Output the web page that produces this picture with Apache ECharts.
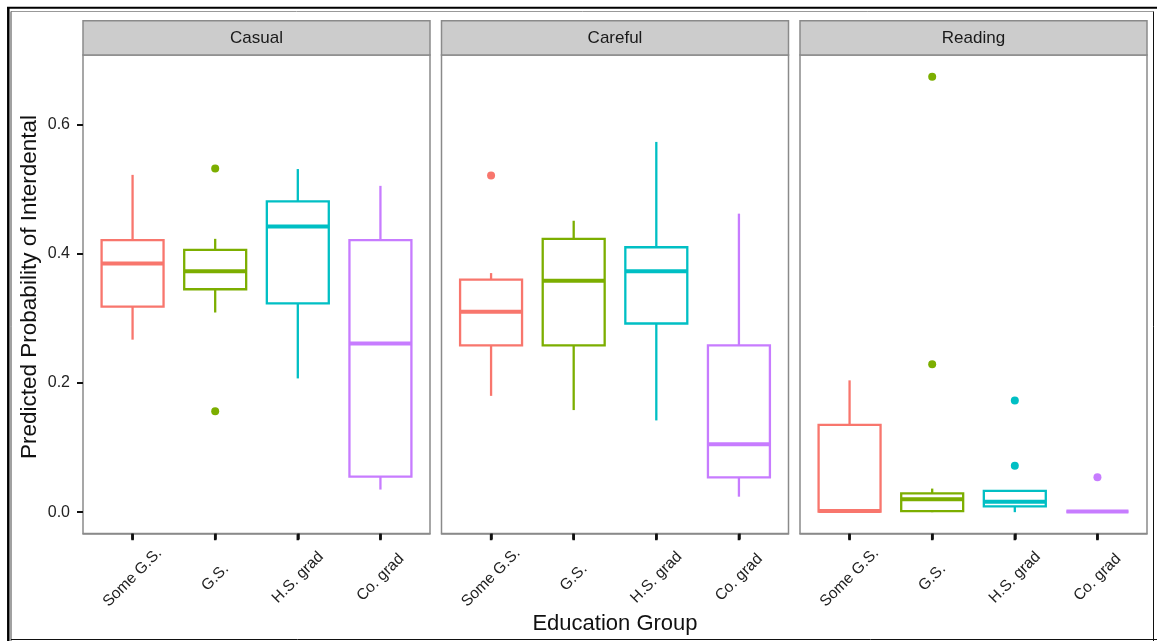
<!DOCTYPE html>
<html><head><meta charset="utf-8">
<script src="https://cdn.jsdelivr.net/npm/echarts@6/dist/echarts.min.js"></script>
<style>html,body{margin:0;padding:0;background:#fff}#c{width:1157px;height:641px}</style>
</head><body><div id="c"></div>
<script>
// ---- data ----
const categories = ['Some G.S.', 'G.S.', 'H.S. grad', 'Co. grad'];
const facets = ['Casual', 'Careful', 'Reading'];
const yTicks = [0, 0.2, 0.4, 0.6];
const xTicks = [1, 2, 3, 4];
// box stats per category: [min, Q1, median, Q3, max]
const casualStats = [
  [0.267, 0.318, 0.385, 0.421, 0.522],
  [0.309, 0.345, 0.373, 0.406, 0.423],
  [0.207, 0.323, 0.442, 0.481, 0.531],
  [0.035, 0.055, 0.261, 0.421, 0.505]
];
const carefulStats = [
  [0.180, 0.258, 0.310, 0.360, 0.370],
  [0.158, 0.258, 0.358, 0.423, 0.451],
  [0.142, 0.292, 0.373, 0.410, 0.573],
  [0.024, 0.054, 0.105, 0.258, 0.462]
];
const readingStats = [
  [0.000, 0.001, 0.002, 0.135, 0.204],
  [0.000, 0.0015, 0.020, 0.029, 0.0365],
  [0.000, 0.009, 0.016, 0.033, 0.033],
  [0.001, 0.001, 0.001, 0.001, 0.001]
];
// outliers: [category number (1-4), value]
const casualOutliers = [[2, 0.532], [2, 0.156]];
const carefulOutliers = [[1, 0.521]];
const readingOutliers = [[2, 0.674], [2, 0.229], [3, 0.173], [3, 0.072], [4, 0.054]];

const colors = ['#F8766D', '#7CAE00', '#00BFC4', '#C77CFF'];

// ---- layout ----
const panelLefts = [83, 441.5, 800];
const panelWidth = 347;
const panelTop = 55;
const panelHeight = 478.5;
const stripTop = 20.7;
const yMin = -0.033, yMax = 0.7075;
const FONT = '"Liberation Sans", Arial, sans-serif';
const BORDER = '#8a8a8a';

const statsList = [casualStats, carefulStats, readingStats];
const outlierList = [casualOutliers, carefulOutliers, readingOutliers];

function renderBox(params, api) {
  const x = api.value(0);
  const mn = api.value(1), q1 = api.value(2), md = api.value(3), q3 = api.value(4), mx = api.value(5);
  const c = colors[x - 1];
  const half = api.size([0.75, 0])[0] / 2;
  const pMin = api.coord([x, mn]), pQ1 = api.coord([x, q1]), pMd = api.coord([x, md]);
  const pQ3 = api.coord([x, q3]), pMax = api.coord([x, mx]);
  const cx = pMd[0];
  const ls = { stroke: c, lineWidth: 2.3, fill: null, lineCap: 'butt', lineJoin: 'miter' };
  return {
    type: 'group',
    children: [
      { type: 'line', shape: { x1: cx, y1: pQ3[1], x2: cx, y2: pMax[1] }, style: ls },
      { type: 'line', shape: { x1: cx, y1: pQ1[1], x2: cx, y2: pMin[1] }, style: ls },
      { type: 'rect', shape: { x: cx - half, y: pQ3[1], width: half * 2, height: pQ1[1] - pQ3[1] },
        style: { stroke: c, lineWidth: 2.3, fill: '#fff', lineJoin: 'miter' } },
      { type: 'line', shape: { x1: cx - half, y1: pMd[1], x2: cx + half, y2: pMd[1] },
        style: { stroke: c, lineWidth: 4, lineCap: 'butt' } }
    ]
  };
}

const grid = [], xAxis = [], yAxis = [], series = [], graphic = [];

facets.forEach((name, i) => {
  grid.push({
    left: panelLefts[i], top: panelTop, width: panelWidth, height: panelHeight,
    show: true, borderColor: BORDER, borderWidth: 1.5, backgroundColor: 'transparent'
  });
  xAxis.push({
    type: 'value', gridIndex: i, min: 0.4, max: 4.6, position: 'bottom',
    axisLine: { show: true, onZero: false, lineStyle: { color: BORDER, width: 1.5 } },
    splitLine: { show: false },
    axisTick: { show: true, customValues: xTicks, length: 6, inside: false, lineStyle: { color: '#111', width: 2.5 } },
    axisLabel: {
      show: true, customValues: xTicks,
      formatter: v => categories[Math.round(v) - 1] || '',
      rotate: 45, align: 'center', verticalAlign: 'middle', margin: 44,
      fontSize: 15.5, color: '#222', fontFamily: FONT
    }
  });
  yAxis.push({
    type: 'value', gridIndex: i, min: yMin, max: yMax,
    axisLine: { show: false, onZero: false },
    splitLine: { show: false },
    axisTick: { show: i === 0, customValues: yTicks, length: 6, lineStyle: { color: '#111', width: 2 } },
    axisLabel: {
      show: i === 0, customValues: yTicks, formatter: v => v.toFixed(1),
      fontSize: 16, color: '#222', margin: 13, fontFamily: FONT
    }
  });
  series.push({
    type: 'custom', xAxisIndex: i, yAxisIndex: i,
    renderItem: renderBox,
    encode: { x: 0, y: [1, 2, 3, 4, 5] },
    data: statsList[i].map((s, k) => [k + 1].concat(s)),
    z: 2
  });
  series.push({
    type: 'scatter', xAxisIndex: i, yAxisIndex: i,
    symbolSize: 8,
    itemStyle: { color: p => colors[p.data[0] - 1], opacity: 1 },
    data: outlierList[i],
    z: 3
  });
  // strip header
  graphic.push({
    type: 'rect', shape: { x: panelLefts[i], y: stripTop, width: panelWidth, height: panelTop - stripTop },
    style: { fill: '#CCCCCC', stroke: BORDER, lineWidth: 1.5 }, z: 10
  });
  graphic.push({
    type: 'text', x: panelLefts[i] + panelWidth / 2, y: 38,
    style: { text: name, fill: '#1a1a1a', font: '17px ' + FONT, align: 'center', verticalAlign: 'middle' }, z: 11
  });
});

// axis titles
graphic.push({
  type: 'text', x: 615, y: 624,
  style: { text: 'Education Group', fill: '#111', font: '22px ' + FONT, align: 'center', verticalAlign: 'middle' }, z: 11
});
graphic.push({
  type: 'text', x: 30, y: 287, rotation: Math.PI / 2,
  style: { text: 'Predicted Probability of Interdental', fill: '#111', font: '22.5px ' + FONT, align: 'center', verticalAlign: 'middle' }, z: 11
});
// outer frame
graphic.push({ type: 'line', shape: { x1: 7, y1: 7.7, x2: 1157, y2: 7.7 }, style: { stroke: '#000', lineWidth: 2 }, z: 12 });
graphic.push({ type: 'line', shape: { x1: 8.3, y1: 7, x2: 8.3, y2: 641 }, style: { stroke: '#000', lineWidth: 2.5 }, z: 12 });
graphic.push({ type: 'line', shape: { x1: 11, y1: 11.5, x2: 1153.5, y2: 11.5 }, style: { stroke: '#999', lineWidth: 1 }, z: 12 });
graphic.push({ type: 'line', shape: { x1: 11, y1: 11.5, x2: 11, y2: 641 }, style: { stroke: '#444', lineWidth: 1 }, z: 12 });
graphic.push({ type: 'line', shape: { x1: 1153.5, y1: 11.5, x2: 1153.5, y2: 641 }, style: { stroke: '#111', lineWidth: 1 }, z: 12 });
graphic.push({ type: 'line', shape: { x1: 11, y1: 639.5, x2: 1157, y2: 639.5 }, style: { stroke: '#111', lineWidth: 1 }, z: 12 });

const chart = echarts.init(document.getElementById('c'), null, { renderer: 'canvas' });
chart.setOption({
  backgroundColor: '#fff',
  animation: false,
  grid, xAxis, yAxis, series, graphic
});

// tick marks below each panel: x from each panel's x scale, y from its y scale
const tickGraphics = [];
facets.forEach((name, i) => {
  xTicks.forEach(v => {
    let p = null;
    try { p = chart.convertToPixel({ gridIndex: i }, [v, yMin]); } catch (e) { p = null; }
    if (p && isFinite(p[0]) && isFinite(p[1])) {
      tickGraphics.push({
        type: 'rect', shape: { x: p[0] - 1.25, y: p[1] + 0.75, width: 2.5, height: 6 },
        style: { fill: '#111' }, z: 30, zlevel: 1
      });
    }
  });
});
if (tickGraphics.length) chart.setOption({ graphic: graphic.concat(tickGraphics) });
</script></body></html>
